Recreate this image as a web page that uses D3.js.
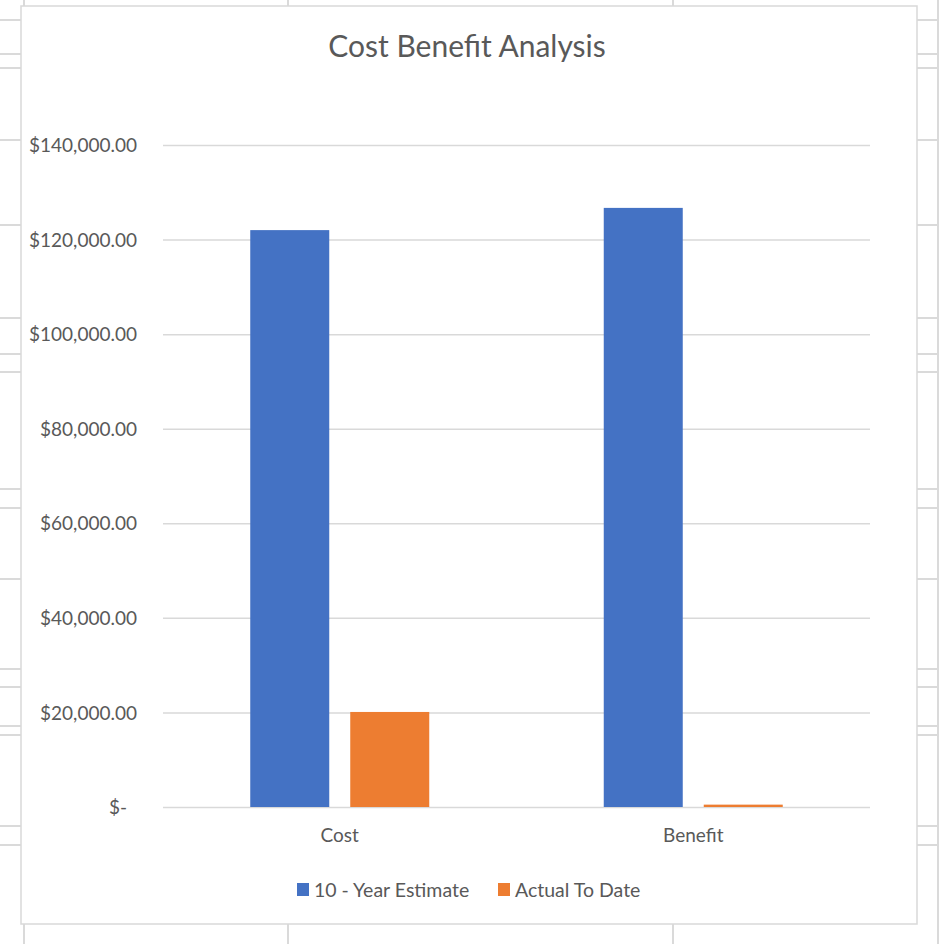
<!DOCTYPE html>
<html>
<head>
<meta charset="utf-8">
<script src="https://cdn.jsdelivr.net/npm/d3@7"></script>
<style>
	body { margin: 0; background: #fff; }
	svg { display: block; }
</style>
</head>
<body>
<svg id="chart" width="942" height="944"></svg>
<script>
// chart values
const categories = ['Cost', 'Benefit']
const series = ['10 - Year Estimate', 'Actual To Date']
const estimate = [122000, 126700]
const actual = [20100, 500]
const yTicks = [0, 20000, 40000, 60000, 80000, 100000, 120000, 140000]

const cols = ['#4472c4', '#ed7d31']

// spreadsheet cells behind the chart (decoration)
const sheetRows = [20, 54, 68, 140, 225, 318, 354, 372, 489, 508, 579, 669, 687, 726, 735, 826, 845]
const sheetCols = [24, 288, 673, 938]

const _font = 'Lato, "Open Sans", sans-serif'
const txt = '#595959'

const svg = d3.select('#chart')
	.attr('font-family', _font)

// --- sheet background
const sheet = svg.append('g').attr('stroke', '#dadada').attr('stroke-width', 2)
sheet.selectAll('.rowL')
	.data(sheetRows)
	.enter()
	.append('line')
	.attr('x1', 0).attr('x2', 21)
	.attr('y1', d => d).attr('y2', d => d)
sheet.selectAll('.rowR')
	.data(sheetRows)
	.enter()
	.append('line')
	.attr('x1', 917).attr('x2', 938)
	.attr('y1', d => d).attr('y2', d => d)
sheet.selectAll('.col')
	.data(sheetCols)
	.enter()
	.append('line')
	.attr('x1', d => d).attr('x2', d => d)
	.attr('y1', 0).attr('y2', 944)

// chart box
svg.append('rect')
	.attr('x', 21).attr('y', 6)
	.attr('width', 896).attr('height', 918)
	.attr('fill', '#fff')
	.attr('stroke', '#d9d9d9')
	.attr('stroke-width', 1.5)

// --- scales
const plot = {left: 163, right: 870, top: 145, bottom: 807}

const y = d3.scaleLinear()
	.domain([0, 140000])
	.range([plot.bottom, plot.top])

const x0 = d3.scaleBand()
	.domain(categories)
	.range([plot.left, plot.right])
	.padding(0)

const x1 = d3.scaleBand()
	.domain(series)
	.range([0, x0.bandwidth()])
	.paddingInner(0.21)
	.paddingOuter(0.8725)

// gridlines
const grid = svg.append('g')
	.attr('transform', `translate(${plot.left},0)`)
	.call(d3.axisLeft(y)
		.tickValues(yTicks)
		.tickSize(-(plot.right - plot.left))
		.tickFormat(''))
grid.select('.domain').remove()
grid.selectAll('line').attr('stroke', '#d9d9d9').attr('stroke-width', 1.5)

// y labels
const fmt = d3.format(',.2f')
const yAxis = svg.append('g')
	.attr('transform', `translate(137,0)`)
	.call(d3.axisLeft(y)
		.tickValues(yTicks)
		.tickSize(0)
		.tickPadding(0)
		.tickFormat(d => d === 0 ? '$-' : '$' + fmt(d)))
yAxis.select('.domain').remove()
yAxis.selectAll('text')
	.attr('fill', txt)
	.attr('font-size', 19)
	.attr('font-family', _font)
	.attr('dy', '0.35em')
	.attr('x', d => d === 0 ? -10 : 0)

// bars
const rows = categories.map((c, i) => ({cat: c, vals: [estimate[i], actual[i]]}))

const groups = svg.selectAll('.grp')
	.data(rows)
	.enter()
	.append('g')
	.classed('grp', true)
	.attr('transform', d => `translate(${x0(d.cat)},0)`)

groups.selectAll('rect')
	.data(d => d.vals.map((v, j) => ({s: series[j], v: v, j: j})))
	.enter()
	.append('rect')
	.attr('x', d => x1(d.s))
	.attr('width', x1.bandwidth())
	.attr('y', d => y(d.v))
	.attr('height', d => y(0) - y(d.v))
	.attr('fill', d => cols[d.j])

// x labels
const xAxis = svg.append('g')
	.attr('transform', `translate(0,${plot.bottom})`)
	.call(d3.axisBottom(x0).tickSize(0).tickPadding(0))
xAxis.select('.domain').remove()
xAxis.selectAll('text')
	.attr('fill', txt)
	.attr('font-size', 19)
	.attr('font-family', _font)
	.attr('dy', 0)
	.attr('y', 35)

// title
svg.append('text')
	.attr('x', 467)
	.attr('y', 57)
	.attr('text-anchor', 'middle')
	.attr('fill', txt)
	.attr('font-size', 30)
	.text('Cost Benefit Analysis')

/*legend*/
const legendX = [297, 498]
const legendG = svg.selectAll('.legend')
	.data(series)
	.enter()
	.append('g')
	.classed('legend', true)
	.attr('transform', (d, i) => `translate(${legendX[i]},883)`)

legendG.append('rect')
	.attr('width', 12)
	.attr('height', 13)
	.attr('fill', (d, i) => cols[i])

legendG.append('text')
	.text(d => d)
	.attr('x', 17)
	.attr('y', 14)
	.attr('fill', txt)
	.attr('font-size', 19.5)
</script>
</body>
</html>
